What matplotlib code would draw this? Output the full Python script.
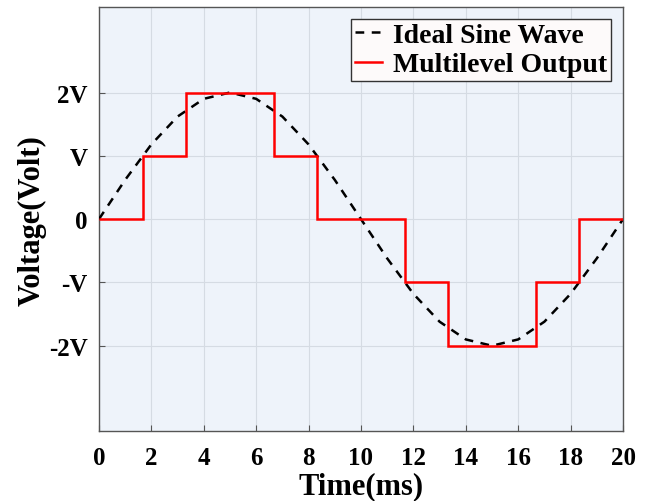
import matplotlib.pyplot as plt
import numpy as np

# ideal sine wave, read at every 1 ms
t_sine = [0, 1, 2, 3, 4, 5, 6, 7, 8, 9, 10, 11, 12, 13, 14, 15, 16, 17, 18, 19, 20]
v_sine = [0, 0.62, 1.18, 1.62, 1.90, 2.0, 1.90, 1.62, 1.18, 0.62, 0,
          -0.62, -1.18, -1.62, -1.90, -2.0, -1.90, -1.62, -1.18, -0.62, 0]

# multilevel staircase output
step_edges = [0, 1.67, 3.33, 6.67, 8.33, 11.67, 13.33, 16.67, 18.33, 20]
step_levels = [0, 1, 2, 1, 0, -1, -2, -1, 0]

ytick_vals = [-2, -1, 0, 1, 2]
ytick_labels = ["-2V", "-V", "0", "V", "2V"]
xtick_vals = [0, 2, 4, 6, 8, 10, 12, 14, 16, 18, 20]

plt.rcParams["font.family"] = "Liberation Serif"
plt.rcParams["font.weight"] = "bold"

fig = plt.figure(figsize=(6.51, 5.02), dpi=100)
ax = fig.add_axes([0.152, 0.139, 0.805, 0.845])
ax.set_facecolor("#eef3fa")

ax.plot(t_sine, v_sine, color="black", linestyle=(0, (3.5, 3)), linewidth=1.8,
        label="Ideal Sine Wave", zorder=3)
ax.stairs(step_levels, step_edges, color="red", linewidth=1.8, baseline=None,
          label="Multilevel Output", zorder=4)

ax.set_xlim(0, 20)
ax.set_ylim(-3.35, 3.35)
ax.set_xticks(xtick_vals)
ax.set_yticks(ytick_vals)
ax.set_yticklabels(ytick_labels)
ax.tick_params(direction="in", length=4, labelsize=18, color="#555555")
ax.tick_params(axis="x", pad=11)
ax.tick_params(axis="y", pad=8)
for lab in ax.get_xticklabels() + ax.get_yticklabels():
    lab.set_fontweight("bold")

ax.grid(True, color="#d5dbe3", linewidth=0.8)
ax.set_axisbelow(True)
for s in ax.spines.values():
    s.set_color("#555555")
    s.set_linewidth(1.0)

ax.set_xlabel("Time(ms)", fontsize=22, fontweight="bold", labelpad=1)
ax.set_ylabel("Voltage(Volt)", fontsize=22, fontweight="bold", labelpad=2)

leg = ax.legend(loc="upper right", fontsize=20, handlelength=1.0, handletextpad=0.4,
                borderpad=0.12, labelspacing=0.15, fancybox=False,
                bbox_to_anchor=(0.977, 0.972), borderaxespad=0)
leg.get_frame().set_edgecolor("#333333")
leg.get_frame().set_linewidth(1.0)
leg.get_frame().set_facecolor("#fdfafa")
leg.get_frame().set_alpha(1)
for txt in leg.get_texts():
    txt.set_fontweight("bold")

fig.savefig("out.png", dpi=100)
